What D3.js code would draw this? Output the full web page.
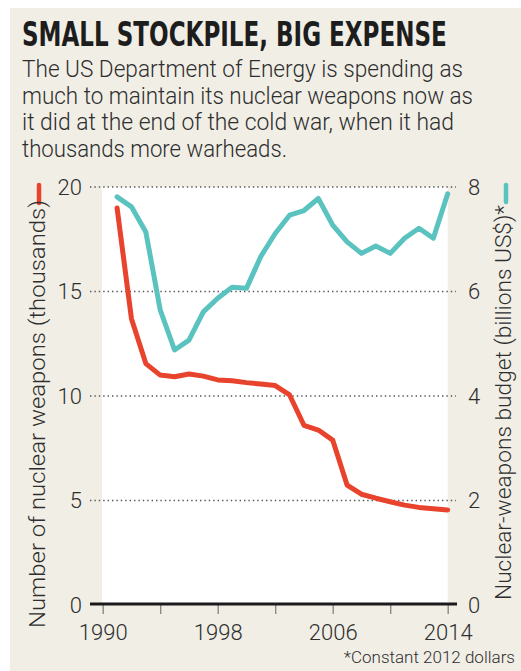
<!DOCTYPE html>
<html>
<head>
<meta charset="utf-8">
<script src="https://cdnjs.cloudflare.com/ajax/libs/d3/7.8.5/d3.min.js"></script>
<style>
	body { margin: 0; background: #fff; }
	svg { display: block; }
</style>
</head>
<body>
<svg width="521" height="671"></svg>
<script>

// data (annual, 1991-2014)
var years = [1991, 1992, 1993, 1994, 1995, 1996, 1997, 1998, 1999, 2000, 2001, 2002,
	2003, 2004, 2005, 2006, 2007, 2008, 2009, 2010, 2011, 2012, 2013, 2014];

// number of nuclear weapons (thousands)
var weapons = [19.0, 13.7, 11.55, 11.0, 10.92, 11.05, 10.95, 10.77, 10.73, 10.64, 10.57, 10.5,
	10.05, 8.6, 8.37, 7.89, 5.74, 5.3, 5.11, 4.94, 4.78, 4.67, 4.61, 4.55];

// nuclear-weapons budget (billions US$, constant 2012)
var budget = [7.81, 7.62, 7.14, 5.65, 4.88, 5.07, 5.61, 5.87, 6.08, 6.06, 6.67, 7.11,
	7.46, 7.55, 7.78, 7.27, 6.95, 6.73, 6.87, 6.73, 7.02, 7.21, 7.02, 7.87];

var leftTicks = [0, 5, 10, 15, 20];
var rightTicks = [0, 2, 4, 6, 8];
var yearTicks = [1990, 1994, 1998, 2002, 2006, 2010, 2014];
var yearLabels = [1990, 1998, 2006, 2014];

var titleText = "SMALL STOCKPILE, BIG EXPENSE";
var subtitleLines = [
	"The US Department of Energy is spending as",
	"much to maintain its nuclear weapons now as",
	"it did at the end of the cold war, when it had",
	"thousands more warheads."
];
var subtitleWidths = [441, 451, 432, 265];
var leftTitle = "Number of nuclear weapons (thousands)";
var rightTitle = "Nuclear-weapons budget (billions US$)*";
var footnote = "*Constant 2012 dollars";

var red = "#e8432c",
teal = "#5bc3bf",
beige = "#f1eee6",
textColor = "#2e2e2e";

var font = "Roboto, 'Liberation Sans', sans-serif";

var svg = d3.select("svg");

// background panel
svg.append("rect")
.attr("x", 10).attr("y", 8)
.attr("width", 511).attr("height", 663)
.attr("fill", beige);

// title, squeezed horizontally to the condensed look of the original
var title = svg.append("text")
.attr("font-family", "'DejaVu Sans Condensed', 'DejaVu Sans', sans-serif")
.attr("font-weight", "bold")
.attr("font-size", 33)
.attr("fill", "#1d1d1d")
.text(titleText);
var tw = title.node().getComputedTextLength();
title.attr("transform", "translate(22,46) scale(" + (425 / tw) + ",1)");

svg.append("g")
.selectAll("text")
.data(subtitleLines)
.enter().append("text")
.attr("x", 22)
.attr("y", function(d, i) { return 77 + i * 26.7; })
.attr("font-family", font)
.attr("font-weight", 300)
.attr("font-size", 23.5)
.attr("fill", textColor)
.attr("textLength", function(d, i) { return subtitleWidths[i]; })
.attr("lengthAdjust", "spacingAndGlyphs")
.text(function(d) { return d; });

// scales
var x = d3.scaleLinear().domain([1990, 2014]).range([102.7, 447.7]);
var yL = d3.scaleLinear().domain([0, 20]).range([605, 187]);
var yR = d3.scaleLinear().domain([0, 8]).range([605, 187]);

// white plot area
svg.append("rect")
.attr("x", x(1990) - 0.7)
.attr("y", yL(20))
.attr("width", x(2014) - x(1990) + 0.7)
.attr("height", yL(0) - yL(20))
.attr("fill", "#fff");

// dotted gridlines
svg.append("g")
.selectAll("line")
.data(leftTicks.filter(function(d) { return d > 0; }))
.enter().append("line")
.attr("x1", 90).attr("x2", 456)
.attr("y1", function(d) { return yL(d); })
.attr("y2", function(d) { return yL(d); })
.attr("stroke", "#555")
.attr("stroke-width", 1.4)
.attr("stroke-dasharray", "1.4,3");

// left axis labels
var leftAxis = d3.axisLeft(yL).tickValues(leftTicks).tickSize(0).tickPadding(0);
var gL = svg.append("g").attr("transform", "translate(82,0)").call(leftAxis);
gL.select(".domain").remove();
gL.selectAll("text")
.attr("font-family", font).attr("font-weight", 300).attr("font-size", 22).attr("fill", textColor);

// right axis labels
var rightAxis = d3.axisRight(yR).tickValues(rightTicks).tickSize(0).tickPadding(0);
var gR = svg.append("g").attr("transform", "translate(468,0)").call(rightAxis);
gR.select(".domain").remove();
gR.selectAll("text")
.attr("font-family", font).attr("font-weight", 300).attr("font-size", 22).attr("fill", textColor);

// x axis: ticks + labels
var xAxis = d3.axisBottom(x).tickValues(yearTicks).tickSize(9).tickPadding(10)
.tickFormat(function(d) { return yearLabels.indexOf(d) > -1 ? d : ""; });
var gX = svg.append("g").attr("transform", "translate(0," + yL(0) + ")").call(xAxis);
gX.select(".domain").remove();
gX.selectAll(".tick line").attr("stroke", "#8a8a8a").attr("stroke-width", 1.4);
gX.selectAll("text")
.attr("font-family", font).attr("font-weight", 300).attr("font-size", 22).attr("fill", textColor);

// baseline
svg.append("line")
.attr("x1", 90).attr("x2", 457)
.attr("y1", yL(0) - 1).attr("y2", yL(0) - 1)
.attr("stroke", "#1a1a1a")
.attr("stroke-width", 3);

// lines
var weaponLine = d3.line()
.x(function(d, i) { return x(years[i]); })
.y(function(d) { return yL(d); });

var budgetLine = d3.line()
.x(function(d, i) { return x(years[i]); })
.y(function(d) { return yR(d); });

svg.append("path")
.datum(budget)
.attr("d", budgetLine)
.attr("fill", "none")
.attr("stroke", teal)
.attr("stroke-width", 5)
.attr("stroke-linejoin", "round")
.attr("stroke-linecap", "round");

svg.append("path")
.datum(weapons)
.attr("d", weaponLine)
.attr("fill", "none")
.attr("stroke", red)
.attr("stroke-width", 5)
.attr("stroke-linejoin", "round")
.attr("stroke-linecap", "round");

// axis titles with colour keys
svg.append("line")
.attr("x1", 39).attr("x2", 39).attr("y1", 185).attr("y2", 203)
.attr("stroke", red).attr("stroke-width", 4.5).attr("stroke-linecap", "round");

svg.append("text")
.attr("transform", "translate(45,628) rotate(-90)")
.attr("font-family", font).attr("font-weight", 300).attr("font-size", 22).attr("fill", textColor)
.attr("textLength", 428)
.attr("lengthAdjust", "spacingAndGlyphs")
.text(leftTitle);

svg.append("line")
.attr("x1", 506).attr("x2", 506).attr("y1", 185).attr("y2", 202)
.attr("stroke", teal).attr("stroke-width", 4.5).attr("stroke-linecap", "round");

svg.append("text")
.attr("transform", "translate(511,600) rotate(-90)")
.attr("font-family", font).attr("font-weight", 300).attr("font-size", 22).attr("fill", textColor)
.attr("textLength", 395)
.attr("lengthAdjust", "spacingAndGlyphs")
.text(rightTitle);

// footnote
svg.append("text")
.attr("x", 515).attr("y", 663)
.attr("text-anchor", "end")
.attr("font-family", font).attr("font-weight", 300).attr("font-size", 17).attr("fill", textColor)
.text(footnote);

</script>
</body>
</html>
